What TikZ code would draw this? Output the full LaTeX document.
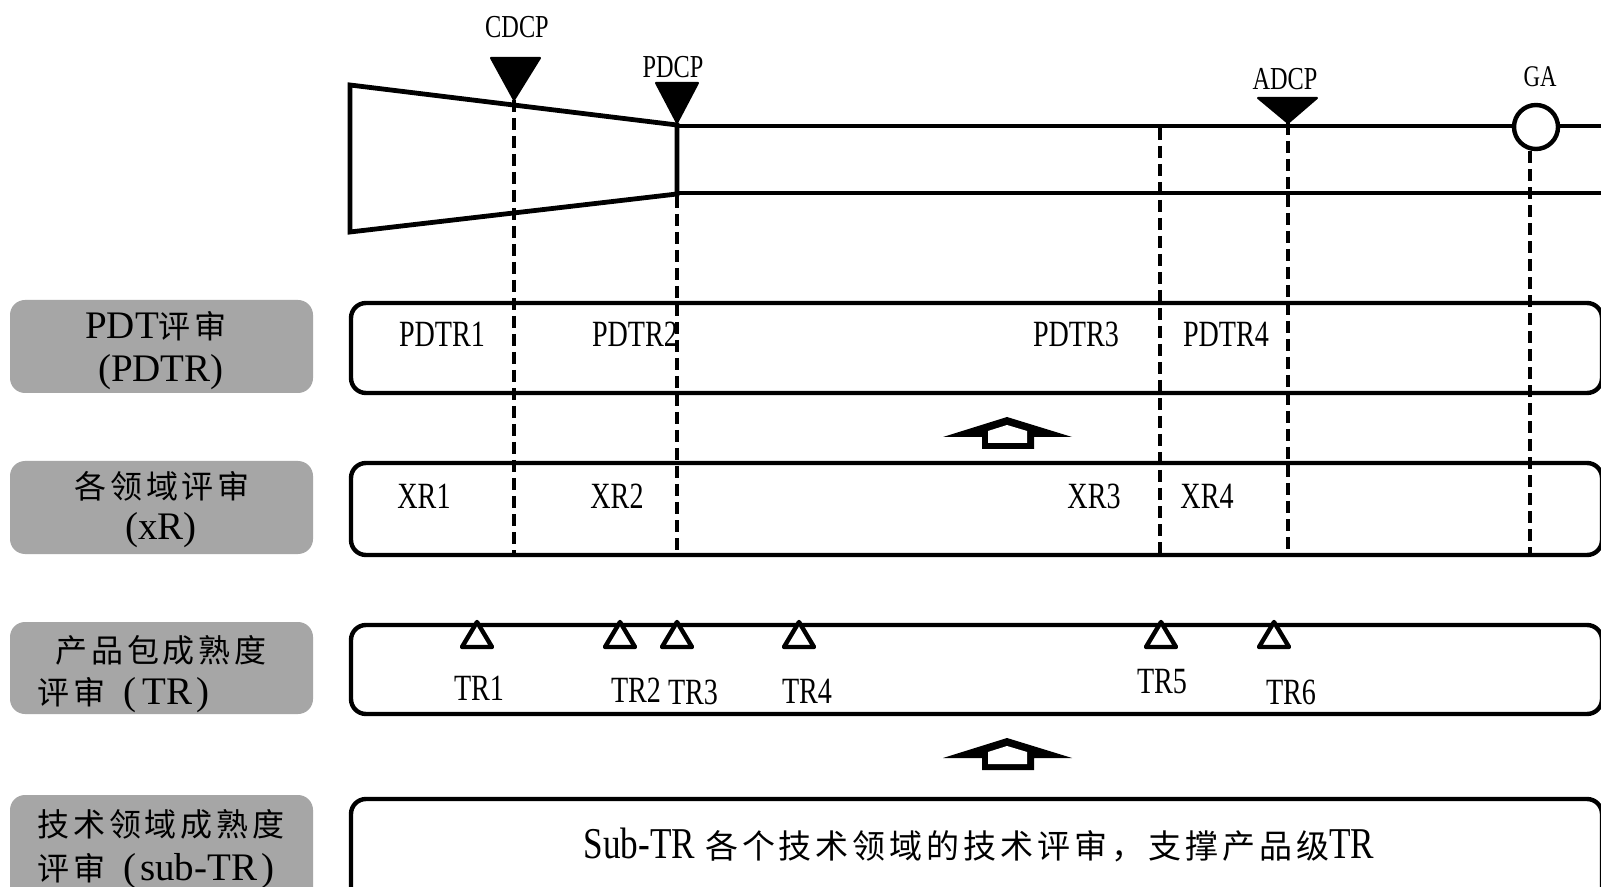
\documentclass[tikz,border=0pt]{standalone}
\usepackage{fontspec}
\setmainfont{Liberation Serif}
\newfontfamily\cond[FakeStretch=0.76]{Liberation Serif}
\newfontfamily\condb[FakeStretch=0.8]{Liberation Serif}
\newfontfamily\cjk[LetterSpace=12]{Noto Sans CJK SC}
\newcommand\zhtext[1]{{\cjk\fontsize{16}{20}\selectfont #1}}
\newcommand\zhbig[1]{{\cjk\fontsize{16.5}{20}\selectfont #1}}
\definecolor{boxgray}{HTML}{A6A6A6}
\begin{document}
\begin{tikzpicture}[x=0.5pt,y=-0.5pt,
  mainline/.style={line width=2.4pt, line join=miter},
  dashline/.style={line width=2pt, dash pattern=on 6pt off 3pt},
  lanebox/.style={line width=2.2pt, rounded corners=7.5pt},
  labelbox/.style={fill=boxgray, rounded corners=7.5pt},
  msmark/.style={fill=black, draw=black, line width=1pt, line join=round},
  trmark/.style={draw=black, fill=white, line width=2.2pt, line join=round},
  toplbl/.style={font=\cond\fontsize{16}{18}\selectfont, inner sep=0pt},
  rowlbl/.style={font=\cond\fontsize{18.5}{20}\selectfont, inner sep=0pt},
  sidelbl/.style={font=\fontsize{19.5}{22}\selectfont, inner sep=0pt},
]
\useasboundingbox (0,0) rectangle (1601,887);
\clip (0,0) rectangle (1601,887);
\fill[white] (0,0) rectangle (1601,887);

% ---- left label boxes
\fill[labelbox] (10,300) rectangle (313,393);
\fill[labelbox] (10,461) rectangle (313,554);
\fill[labelbox] (10,622) rectangle (313,714);
\fill[labelbox] (10,795) rectangle (313,920);

\node[sidelbl] (l1a) at (156,326) {PDT\zhtext{评审}};
\node[sidelbl] (l1b) at (161,372) {(PDTR)};
\node[sidelbl] (l2a) at (162,486) {\zhtext{各领域评审}};
\node[sidelbl] (l2b) at (161,530) {(xR)};
\node[sidelbl] (l3a) at (161,650) {\zhtext{产品包成熟度}};
\node[sidelbl, anchor=west] (l3b) at (37,695) {\zhtext{评审}\hspace{9pt}(\hspace{3pt}TR\hspace{2pt})};
\node[sidelbl] (l4a) at (161,824) {\zhtext{技术领域成熟度}};
\node[sidelbl, anchor=west] (l4b) at (37,871) {\zhtext{评审}\hspace{9pt}(\hspace{2pt}sub-TR\hspace{2pt})};

% ---- lane boxes
\draw[lanebox] (351,303) rectangle (1602,393);
\draw[lanebox] (351,463) rectangle (1602,555);
\draw[lanebox] (351,625) rectangle (1602,714);
\draw[lanebox] (351,799) rectangle (1602,940);

% ---- funnel and timeline
\draw[mainline] (350,85) -- (677,125) -- (677,194) -- (350,232) -- cycle;
\draw[mainline] (677,126) -- (1610,126);
\draw[mainline] (677,193) -- (1610,193);

% ---- milestone markers
\draw[msmark] (491,58) -- (540,58) -- (514,100) -- cycle;
\draw[msmark] (656,83) -- (698,83) -- (677,123) -- cycle;
\draw[msmark] (1258,98) -- (1317,98) -- (1288,123) -- cycle;
\node[circle, draw=black, fill=white, line width=2.2pt, minimum size=22pt, inner sep=0pt] (ga) at (1536,127) {};

\node[toplbl] (tcdcp) at (517,27) {CDCP};
\node[toplbl] (tpdcp) at (673,67) {PDCP};
\node[toplbl] (tadcp) at (1285,79) {ADCP};
\node[toplbl, font=\cond\fontsize{15}{17}\selectfont] (tga) at (1540,77) {GA};

% ---- dashed milestone lines
\coordinate (c1t) at (514,100);  \coordinate (c1b) at (514,555);
\coordinate (c2t) at (677,196);  \coordinate (c2b) at (677,555);
\coordinate (c3t) at (1160,128); \coordinate (c3b) at (1160,555);
\coordinate (c4t) at (1288,123); \coordinate (c4b) at (1288,555);
\coordinate (c5b) at (1530,555);
\draw[dashline] (c1t) -- (c1b);
\draw[dashline] (c2t) -- (c2b);
\draw[dashline] (c3t) -- (c3b);
\draw[dashline] (c4t) -- (c4b);
\draw[dashline] (ga.south -| c5b) -- (c5b);

% ---- PDTR labels
\node[rowlbl] (p1) at (442,334) {PDTR1};
\node[rowlbl] (p2) at (635,334) {PDTR2};
\node[rowlbl] (p3) at (1076,334) {PDTR3};
\node[rowlbl] (p4) at (1226,334) {PDTR4};

% ---- XR labels
\node[rowlbl] (x1) at (424,496) {XR1};
\node[rowlbl] (x2) at (617,496) {XR2};
\node[rowlbl] (x3) at (1094,496) {XR3};
\node[rowlbl] (x4) at (1207,496) {XR4};

% ---- hollow up arrows
\foreach \dy in {0,321}{
  \begin{scope}[shift={(0,\dy)}]
    \fill[black] (943,437) -- (1007,417) -- (1072,437) -- (1034,437) -- (1034,449) -- (982,449) -- (982,437) -- cycle;
    \fill[white] (988,431) -- (1007,425) -- (1027,431) -- (1027,443) -- (988,443) -- cycle;
  \end{scope}
}

% ---- TR markers
\foreach \x/\n in {477/1,620/2,677/3,799/4,1161/5,1274/6}{
  \draw[trmark] (\x-15,647) -- (\x,622) -- (\x+15,647) -- cycle;
}
\node[rowlbl] (tr1) at (479,688) {TR1};
\node[rowlbl] (tr2) at (636,690) {TR2};
\node[rowlbl] (tr3) at (693,692) {TR3};
\node[rowlbl] (tr4) at (807,691) {TR4};
\node[rowlbl] (tr5) at (1162,682) {TR5};
\node[rowlbl] (tr6) at (1291,692) {TR6};

% ---- bottom text
\node[inner sep=0pt] (subtr) at (979,845) {{\condb\fontsize{22}{24}\selectfont Sub-TR}\hspace{5pt}\zhbig{各个技术领域的技术评审，支撑产品级}{\condb\fontsize{22}{24}\selectfont TR}};
\end{tikzpicture}
\end{document}
